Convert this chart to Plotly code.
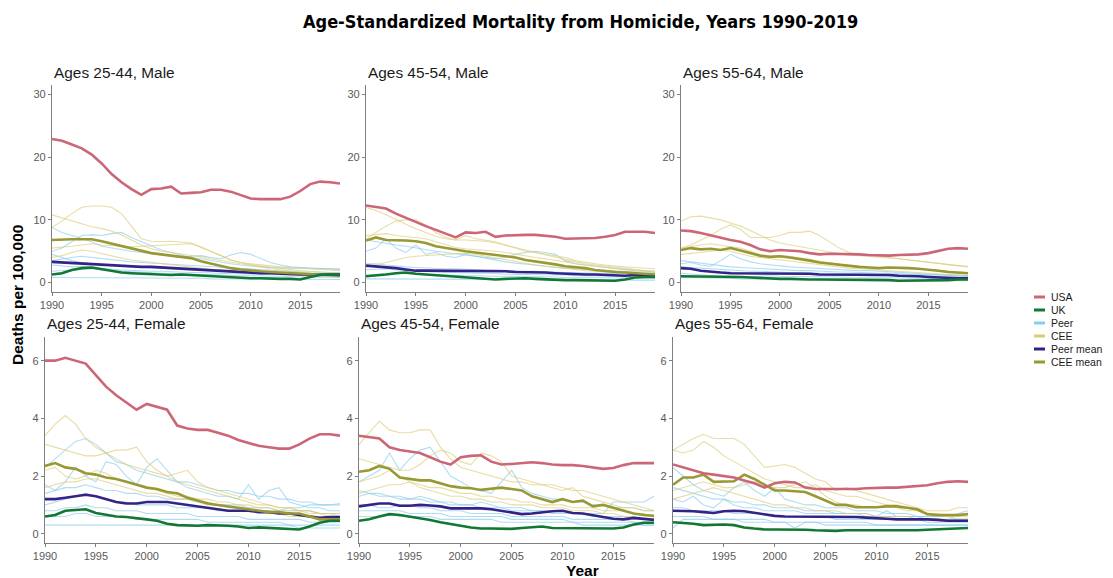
import plotly.graph_objects as go

# page body has an 8px margin; the figure is sized so it fills the window exactly
OFF = 8
W, H = 1113 - OFF, 578 - OFF
years = list(range(1990, 2020))

panel_titles = ["Ages 25-44, Male", "Ages 45-54, Male", "Ages 55-64, Male",
                "Ages 25-44, Female", "Ages 45-54, Female", "Ages 55-64, Female"]
series_names = ["USA", "UK", "Peer", "CEE", "Peer mean", "CEE mean"]
x_ticks = [1990, 1995, 2000, 2005, 2010, 2015]
y_ticks_male = [0, 10, 20, 30]
y_ticks_female = [0, 2, 4, 6]

# ---- Ages 25-44, Male ----
usa_m2544 = [22.9,22.6,22.0,21.4,20.4,19.0,17.3,16.0,14.9,14.0,14.9,15.0,15.3,14.2,14.3,14.4,14.8,14.8,14.5,13.9,13.4,13.3,13.3,13.3,13.7,14.6,15.7,16.1,16.0,15.8]
uk_m2544 = [1.3,1.5,2.0,2.3,2.4,2.1,1.8,1.6,1.5,1.4,1.3,1.3,1.2,1.3,1.2,1.1,1.0,0.9,0.9,0.8,0.7,0.7,0.6,0.6,0.6,0.5,0.9,1.2,1.3,1.2]
peermean_m2544 = [3.3,3.2,3.1,3.0,2.9,2.8,2.7,2.6,2.5,2.5,2.5,2.4,2.3,2.2,2.1,2.0,1.9,1.8,1.7,1.6,1.6,1.5,1.5,1.4,1.4,1.3,1.3,1.3,1.3,1.3]
ceemean_m2544 = [6.8,6.9,6.9,6.9,6.9,6.6,6.2,5.9,5.5,5.1,4.7,4.5,4.3,4.1,3.9,3.4,3.0,2.6,2.3,2.1,1.9,1.8,1.7,1.6,1.5,1.4,1.3,1.2,1.1,1.1]
cee_m2544 = [
    [8.8,9.8,11.0,12.0,12.2,12.2,12.0,11.0,9.0,7.0,6.6,6.5,6.6,6.5,6.3,5.6,5.0,4.3,3.6,3.2,3.0,2.8,2.7,2.5,2.4,2.3,2.2,2.1,2.0,1.9],
    [10.8,10.3,9.8,9.3,8.9,8.6,8.2,7.6,6.8,6.0,5.4,5.0,4.8,4.6,4.4,4.1,3.8,3.5,3.2,3.0,2.8,2.6,2.4,2.2,2.0,1.9,1.8,1.7,1.6,1.5],
    [5.5,5.6,5.8,6.0,6.2,6.0,5.9,5.8,5.7,5.8,5.9,6.0,6.0,6.1,6.2,5.7,5.0,4.3,3.6,3.2,2.8,2.5,2.2,2.0,1.8,1.6,1.4,1.3,1.2,1.1],
    [4.0,4.3,4.8,5.2,5.0,4.6,4.2,3.9,3.6,3.4,3.2,3.0,2.8,2.7,2.5,2.3,2.1,2.0,1.9,1.8,1.7,1.6,1.5,1.4,1.3,1.2,1.1,1.0,1.0,0.9],
]
peer_m2544 = [
    [8.8,8.0,7.5,7.0,6.5,5.8,5.5,5.3,5.0,4.8,4.6,4.4,4.2,4.0,4.2,4.3,4.0,3.8,4.4,4.8,4.5,3.8,3.2,2.8,2.5,2.4,2.3,2.2,2.2,2.1],
    [5.0,5.5,6.5,7.5,7.6,7.5,7.8,8.0,7.2,6.5,5.8,5.2,4.8,4.4,4.0,3.8,3.5,3.2,3.0,2.8,2.6,2.5,2.4,2.3,2.3,2.3,2.2,2.2,2.2,2.2],
    [3.5,3.8,4.0,4.2,4.0,3.8,3.6,3.5,3.3,3.2,3.1,3.0,2.9,2.8,2.7,2.6,2.5,2.4,2.3,2.2,2.1,2.0,1.9,1.8,1.8,1.7,1.7,1.6,1.6,1.6],
    [2.8,2.6,2.5,2.6,2.4,2.2,2.1,2.0,1.9,1.9,1.8,1.8,1.7,1.7,1.6,1.6,1.5,1.5,1.4,1.4,1.3,1.3,1.3,1.2,1.2,1.2,1.1,1.1,1.1,1.1],
    [1.8,1.9,2.0,2.1,2.2,2.0,1.9,1.8,1.7,1.6,1.6,1.5,1.5,1.4,1.4,1.3,1.3,1.2,1.2,1.1,1.1,1.0,1.0,1.0,0.9,0.9,0.9,0.9,0.8,0.8],
    [0.8,0.8,0.8,0.8,0.8,0.8,0.8,0.8,0.7,0.7,0.7,0.7,0.7,0.7,0.7,0.7,0.6,0.6,0.6,0.6,0.6,0.6,0.6,0.6,0.5,0.5,0.5,0.5,0.5,0.5],
    [4.5,4.0,3.5,3.2,3.0,2.8,2.7,2.6,2.5,2.4,2.3,2.2,2.1,2.0,2.0,1.9,1.9,1.8,1.8,1.7,1.7,1.6,1.6,1.5,1.5,1.5,1.4,1.4,1.4,1.4],
]

# ---- Ages 45-54, Male ----
usa_m4554 = [12.3,12.1,11.8,11.0,10.3,9.6,9.0,8.4,7.8,7.2,8.0,7.9,8.1,7.3,7.5,7.6,7.6,7.6,7.5,7.3,7.0,7.0,7.1,7.1,7.3,7.6,8.1,8.1,8.1,7.9]
uk_m4554 = [1.0,1.1,1.3,1.5,1.6,1.4,1.3,1.1,1.0,0.9,0.8,0.7,0.6,0.5,0.6,0.7,0.7,0.6,0.5,0.5,0.4,0.4,0.4,0.4,0.3,0.3,0.5,0.8,0.9,0.9]
peermean_m4554 = [2.7,2.6,2.5,2.3,2.1,1.9,1.9,1.9,1.9,1.9,1.9,1.9,1.8,1.8,1.8,1.7,1.7,1.6,1.6,1.5,1.4,1.4,1.3,1.3,1.2,1.1,1.1,1.2,1.2,1.2]
ceemean_m4554 = [6.7,7.2,6.8,6.8,6.7,6.6,6.3,5.8,5.5,5.2,5.0,4.8,4.6,4.4,4.2,4.0,3.6,3.4,3.2,2.9,2.6,2.5,2.3,2.0,1.8,1.7,1.6,1.5,1.4,1.3]
cee_m4554 = [
    [7.0,8.0,9.0,9.8,10.0,10.0,9.2,8.0,7.2,6.8,7.5,7.0,6.8,6.5,6.0,5.5,5.0,4.8,4.5,4.2,4.0,3.5,3.2,3.0,2.8,2.6,2.5,2.4,2.3,2.2],
    [12.0,11.5,10.8,10.0,9.3,8.6,8.0,7.4,7.0,6.8,6.8,6.7,6.6,6.3,6.0,5.6,5.2,4.8,4.4,4.0,3.6,3.3,3.0,2.8,2.6,2.4,2.2,2.0,1.9,1.8],
    [7.5,7.6,7.8,7.5,7.3,7.2,7.0,6.5,6.0,5.6,5.4,5.3,5.2,5.0,4.8,4.5,4.2,4.0,3.8,3.6,3.3,3.0,2.8,2.5,2.3,2.1,2.0,1.9,1.8,1.7],
    [2.5,2.8,3.2,3.6,4.0,4.2,4.3,4.4,4.5,4.6,4.7,4.5,4.2,4.0,3.6,3.3,3.0,2.8,2.6,2.4,2.2,2.0,1.9,1.8,1.7,1.6,1.5,1.4,1.4,1.3],
]
peer_m4554 = [
    [5.0,5.5,7.0,5.5,4.8,6.0,4.5,4.8,4.2,4.0,4.5,4.2,3.8,3.5,3.3,3.1,3.0,2.8,2.6,2.4,2.3,2.2,2.1,2.0,1.9,1.8,1.8,1.7,1.7,1.6],
    [6.8,6.5,6.3,6.0,5.8,5.5,5.2,5.0,4.8,4.6,4.5,4.3,4.0,3.8,4.0,4.5,4.8,5.0,4.8,4.5,3.5,3.0,2.8,2.6,2.4,2.2,2.1,2.0,1.9,1.8],
    [3.0,3.0,2.8,2.6,2.5,2.4,2.3,2.3,2.2,2.2,2.1,2.1,2.0,2.0,1.9,1.9,1.8,1.8,1.7,1.7,1.6,1.6,1.5,1.5,1.5,1.4,1.4,1.4,1.3,1.3],
    [2.0,2.1,2.2,2.0,1.9,1.8,1.8,1.7,1.6,1.6,1.5,1.5,1.5,1.4,1.4,1.3,1.3,1.3,1.2,1.2,1.2,1.1,1.1,1.1,1.0,1.0,1.0,1.0,0.9,0.9],
    [1.2,1.3,1.4,1.5,1.4,1.3,1.3,1.2,1.2,1.1,1.1,1.1,1.0,1.0,1.0,1.0,0.9,0.9,0.9,0.9,0.8,0.8,0.8,0.8,0.8,0.7,0.7,0.7,0.7,0.7],
    [0.6,0.6,0.6,0.6,0.6,0.6,0.6,0.5,0.5,0.5,0.5,0.5,0.5,0.5,0.5,0.5,0.5,0.5,0.4,0.4,0.4,0.4,0.4,0.4,0.4,0.4,0.4,0.4,0.4,0.4],
]

# ---- Ages 55-64, Male ----
usa_m5564 = [8.3,8.2,7.9,7.5,7.2,6.8,6.5,6.0,5.3,5.0,5.2,5.1,5.0,4.7,4.5,4.6,4.6,4.6,4.5,4.4,4.3,4.3,4.4,4.4,4.5,4.7,5.1,5.4,5.5,5.4]
uk_m5564 = [1.0,1.0,1.0,1.0,1.0,1.0,0.9,0.8,0.7,0.6,0.6,0.6,0.5,0.5,0.5,0.5,0.5,0.4,0.4,0.4,0.4,0.4,0.3,0.3,0.3,0.3,0.3,0.4,0.5,0.5]
peermean_m5564 = [2.3,2.2,1.9,1.7,1.6,1.5,1.5,1.5,1.5,1.5,1.5,1.4,1.4,1.4,1.3,1.3,1.3,1.3,1.3,1.2,1.2,1.2,1.1,1.1,1.0,0.9,0.8,0.8,0.7,0.7]
ceemean_m5564 = [5.2,5.5,5.3,5.4,5.2,5.5,5.1,4.7,4.3,4.1,4.2,4.0,3.8,3.5,3.2,3.0,2.9,2.7,2.5,2.4,2.3,2.4,2.4,2.3,2.2,2.1,1.9,1.7,1.6,1.5]
cee_m5564 = [
    [9.8,10.5,10.6,10.3,10.0,9.5,9.0,8.3,7.5,6.8,6.3,6.0,5.8,5.5,5.2,4.9,4.6,4.4,4.3,4.2,4.1,4.0,3.8,3.6,3.4,3.2,3.0,2.8,2.7,2.6],
    [5.5,6.0,6.8,7.5,8.5,9.2,8.5,7.2,7.2,7.2,7.5,8.0,8.0,8.2,7.5,6.5,5.5,4.8,4.5,4.3,4.2,4.0,3.8,3.6,3.4,3.2,3.0,2.8,2.6,2.5],
    [5.5,5.8,6.0,6.2,6.0,5.8,5.5,5.0,4.4,4.2,4.3,4.2,4.0,3.7,3.4,3.1,2.9,2.7,2.5,2.4,2.3,2.4,2.4,2.3,2.2,2.1,1.9,1.8,1.7,1.6],
    [4.5,4.6,4.8,5.0,5.2,5.0,4.6,4.2,4.0,3.8,3.6,3.4,3.2,3.0,2.8,2.6,2.4,2.3,2.2,2.1,2.0,1.9,1.8,1.7,1.6,1.5,1.4,1.3,1.2,1.1],
]
peer_m5564 = [
    [3.5,3.3,3.0,2.8,2.6,2.5,2.4,2.3,2.2,2.1,2.0,2.0,1.9,1.9,1.8,1.8,1.7,1.7,1.6,1.6,1.5,1.5,1.4,1.4,1.3,1.3,1.2,1.2,1.2,1.1],
    [3.0,3.2,2.8,2.6,3.5,4.5,3.8,3.3,3.0,2.8,2.6,2.5,2.4,2.3,2.2,2.1,2.0,2.0,1.9,1.9,1.8,1.8,1.7,1.6,1.5,1.4,1.3,1.2,1.1,1.0],
    [2.2,2.0,1.9,1.8,1.7,1.6,1.6,1.5,1.5,1.5,1.4,1.4,1.4,1.3,1.3,1.3,1.2,1.2,1.2,1.1,1.1,1.1,1.0,1.0,1.0,0.9,0.9,0.9,0.9,0.8],
    [1.5,1.4,1.3,1.2,1.0,0.8,0.9,1.0,1.1,1.1,1.0,1.0,1.0,0.9,0.9,0.9,0.9,0.8,0.8,0.8,0.8,0.7,0.7,0.7,0.7,0.7,0.6,0.6,0.6,0.6],
    [0.8,0.8,0.7,0.7,0.7,0.7,0.6,0.6,0.6,0.6,0.6,0.6,0.5,0.5,0.5,0.5,0.5,0.5,0.5,0.4,0.4,0.4,0.4,0.4,0.4,0.4,0.4,0.4,0.3,0.3],
    [2.5,2.4,2.3,2.1,2.0,1.9,1.9,1.8,1.8,1.7,1.7,1.6,1.6,1.5,1.5,1.5,1.4,1.4,1.4,1.3,1.3,1.3,1.2,1.2,1.1,1.1,1.1,1.0,1.0,1.0],
]

# ---- Ages 25-44, Female ----
usa_f2544 = [6.0,6.0,6.1,6.0,5.9,5.5,5.1,4.8,4.55,4.3,4.5,4.4,4.3,3.75,3.65,3.6,3.6,3.5,3.4,3.25,3.15,3.05,3.0,2.95,2.95,3.1,3.3,3.45,3.45,3.4]
uk_f2544 = [0.6,0.65,0.8,0.82,0.85,0.72,0.65,0.6,0.58,0.55,0.5,0.45,0.35,0.3,0.28,0.28,0.3,0.3,0.28,0.25,0.2,0.22,0.2,0.18,0.15,0.15,0.25,0.38,0.45,0.45]
peermean_f2544 = [1.2,1.2,1.25,1.3,1.35,1.3,1.2,1.1,1.05,1.05,1.1,1.1,1.1,1.05,1.0,0.95,0.9,0.85,0.8,0.8,0.8,0.75,0.75,0.7,0.7,0.65,0.6,0.55,0.58,0.58]
ceemean_f2544 = [2.35,2.45,2.3,2.25,2.1,2.05,1.95,1.9,1.8,1.7,1.6,1.55,1.45,1.4,1.25,1.15,1.05,1.0,0.95,0.9,0.85,0.8,0.75,0.75,0.7,0.7,0.6,0.5,0.5,0.5]
cee_f2544 = [
    [3.4,3.8,4.1,3.8,3.3,3.0,2.8,2.6,2.4,2.3,2.2,2.1,2.0,2.1,2.2,1.8,1.6,1.5,1.4,1.3,1.2,1.1,1.0,0.9,0.9,0.8,0.8,0.7,0.7,0.7],
    [3.1,3.0,2.9,2.8,2.7,2.7,2.8,2.9,2.9,3.0,2.5,2.2,2.0,1.8,1.7,1.6,1.5,1.4,1.3,1.2,1.1,1.0,1.0,0.9,0.9,0.8,0.8,0.7,0.7,0.6],
    [2.2,2.3,2.0,1.9,2.0,2.2,2.1,1.9,1.8,1.7,1.6,1.5,1.4,1.3,1.3,1.2,1.2,1.1,1.1,1.0,1.0,0.9,0.9,0.8,0.8,0.8,0.7,0.7,0.6,0.6],
    [1.6,1.7,1.8,1.8,1.9,1.9,1.8,1.7,1.6,1.5,1.4,1.4,1.3,1.2,1.2,1.1,1.0,1.0,0.9,0.9,0.8,0.8,0.7,0.7,0.6,0.6,0.6,0.5,0.5,0.5],
]
peer_f2544 = [
    [2.3,2.6,2.9,3.2,3.3,3.1,2.8,2.5,2.4,2.2,2.1,2.0,1.9,1.8,1.8,1.7,1.6,1.5,1.5,1.4,1.4,1.3,1.3,1.2,1.2,1.1,1.1,1.0,1.0,1.0],
    [1.7,1.5,1.8,2.3,2.0,1.8,2.5,2.4,2.0,1.7,2.3,2.6,2.2,1.8,1.6,1.5,1.4,1.3,1.3,1.2,1.7,1.2,1.5,1.6,1.1,1.0,0.9,0.9,0.8,0.8],
    [1.0,1.1,1.2,1.3,1.4,1.3,1.2,1.1,1.1,1.0,1.0,1.0,1.0,0.9,0.9,0.9,0.9,0.8,0.8,0.8,0.8,0.8,0.8,0.8,0.9,0.9,1.0,1.0,1.0,1.05],
    [0.8,0.8,0.9,0.9,1.0,0.9,0.9,0.8,0.8,0.8,0.7,0.7,0.7,0.7,0.7,0.6,0.6,0.6,0.6,0.6,0.5,0.5,0.5,0.5,0.5,0.5,0.4,0.4,0.4,0.4],
    [0.3,0.3,0.3,0.3,0.3,0.3,0.3,0.3,0.3,0.3,0.3,0.3,0.3,0.3,0.3,0.3,0.3,0.3,0.3,0.3,0.3,0.3,0.3,0.3,0.3,0.2,0.2,0.2,0.2,0.2],
    [1.4,1.5,1.6,1.6,1.7,1.6,1.5,1.5,1.4,1.4,1.3,1.3,1.2,1.2,1.2,1.1,1.1,1.0,1.0,1.0,0.9,0.9,0.9,0.8,0.8,0.8,0.8,0.7,0.7,0.7],
    [0.6,0.6,0.6,0.7,0.7,0.6,0.6,0.6,0.6,0.5,0.5,0.5,0.5,0.5,0.5,0.5,0.4,0.4,0.4,0.4,0.4,0.4,0.4,0.4,0.3,0.3,0.3,0.3,0.3,0.3],
]

# ---- Ages 45-54, Female ----
usa_f4554 = [3.4,3.35,3.3,3.0,2.9,2.85,2.8,2.65,2.5,2.4,2.65,2.7,2.72,2.5,2.4,2.42,2.45,2.48,2.45,2.4,2.38,2.38,2.35,2.3,2.25,2.28,2.38,2.45,2.45,2.45]
uk_f4554 = [0.45,0.5,0.6,0.68,0.65,0.6,0.55,0.48,0.4,0.33,0.28,0.22,0.18,0.18,0.18,0.17,0.2,0.22,0.25,0.2,0.2,0.18,0.18,0.18,0.18,0.18,0.22,0.32,0.38,0.38]
peermean_f4554 = [0.95,1.0,1.05,1.05,0.97,0.97,1.0,0.98,0.95,0.88,0.88,0.9,0.88,0.85,0.8,0.75,0.68,0.7,0.75,0.78,0.8,0.72,0.7,0.65,0.58,0.52,0.5,0.55,0.52,0.48]
ceemean_f4554 = [2.15,2.2,2.35,2.25,1.95,1.9,1.85,1.85,1.75,1.65,1.6,1.58,1.52,1.55,1.6,1.55,1.5,1.3,1.2,1.1,1.2,1.1,1.15,0.95,1.0,0.9,0.8,0.7,0.65,0.62]
cee_f4554 = [
    [3.1,3.5,3.9,3.6,3.5,3.5,3.6,3.6,3.0,2.6,2.3,2.2,2.1,2.0,1.9,1.8,1.8,1.7,1.7,1.6,1.5,1.6,1.3,1.2,1.1,1.0,0.9,0.9,0.8,0.8],
    [2.6,2.5,2.4,2.3,2.2,2.2,2.4,2.7,2.9,2.8,2.5,2.4,2.8,2.7,2.5,2.0,1.9,1.8,1.7,1.7,1.6,1.5,1.5,1.4,1.3,1.2,1.1,1.0,0.9,0.8],
    [1.8,1.9,2.0,2.2,2.0,1.8,1.7,1.6,1.6,1.5,1.4,1.4,1.3,1.3,1.2,1.2,1.1,1.1,1.0,1.0,1.0,0.9,0.9,0.9,0.8,0.8,0.8,0.7,0.7,0.6],
    [1.4,1.5,1.6,1.7,1.7,1.8,1.6,1.5,1.4,1.3,1.3,1.2,1.2,1.1,1.1,1.0,1.0,1.0,0.9,0.9,0.9,0.8,0.8,0.8,0.7,0.7,0.6,0.6,0.5,0.5],
]
peer_f4554 = [
    [1.8,2.0,2.2,2.8,2.2,2.6,2.9,3.0,2.5,2.0,1.8,1.6,1.5,1.4,1.8,2.2,1.6,1.4,1.3,1.2,1.2,1.1,1.1,1.0,1.0,0.9,0.9,0.9,0.8,0.8],
    [1.3,1.4,1.4,1.3,1.3,1.2,1.2,1.1,1.1,1.0,1.0,1.0,1.1,1.0,0.9,0.9,0.9,0.8,0.8,0.8,0.8,0.7,0.7,0.7,0.7,1.1,1.1,1.1,1.1,1.3],
    [1.0,1.0,0.9,0.9,1.0,1.0,0.9,0.9,0.8,0.8,0.8,0.7,0.7,0.7,0.7,0.6,0.6,0.6,0.6,0.6,0.6,0.5,0.5,0.5,0.5,0.5,0.5,0.4,0.4,0.4],
    [0.6,0.6,0.6,0.7,0.6,0.6,0.6,0.6,0.5,0.5,0.5,0.5,0.5,0.5,0.4,0.4,0.4,0.4,0.4,0.4,0.4,0.4,0.3,0.3,0.3,0.3,0.3,0.3,0.3,0.3],
    [1.5,1.4,1.3,1.3,1.2,1.2,1.3,1.2,1.1,1.1,1.0,1.0,0.9,0.9,0.9,0.8,0.8,0.8,0.8,0.7,0.7,0.7,0.7,0.6,0.6,0.6,0.6,0.5,0.5,0.5],
    [0.8,0.8,0.8,0.8,0.8,0.7,0.7,0.7,0.7,0.6,0.6,0.6,0.6,0.6,0.6,0.5,0.5,0.5,0.5,0.5,0.5,0.4,0.4,0.4,0.4,0.4,0.4,0.4,0.3,0.3],
]

# ---- Ages 55-64, Female ----
usa_f5564 = [2.4,2.3,2.2,2.1,2.05,2.0,1.95,1.85,1.75,1.6,1.75,1.8,1.78,1.6,1.55,1.55,1.55,1.55,1.55,1.58,1.6,1.6,1.6,1.62,1.65,1.68,1.75,1.8,1.82,1.8]
uk_f5564 = [0.4,0.38,0.35,0.3,0.32,0.32,0.3,0.22,0.18,0.15,0.15,0.15,0.15,0.14,0.12,0.1,0.1,0.12,0.12,0.12,0.12,0.1,0.1,0.12,0.12,0.14,0.16,0.18,0.2,0.2]
peermean_f5564 = [0.8,0.8,0.78,0.75,0.72,0.78,0.8,0.78,0.72,0.68,0.62,0.6,0.6,0.6,0.58,0.58,0.58,0.6,0.58,0.56,0.55,0.52,0.5,0.5,0.52,0.5,0.48,0.45,0.45,0.45]
ceemean_f5564 = [1.7,1.95,1.95,2.05,1.8,1.82,1.82,2.05,1.9,1.7,1.5,1.5,1.48,1.45,1.3,1.15,1.0,1.0,0.92,0.92,0.92,0.95,0.95,0.9,0.85,0.68,0.65,0.65,0.65,0.68]
cee_f5564 = [
    [2.9,3.1,3.3,3.45,3.3,3.3,3.3,3.1,2.7,2.3,2.35,2.4,2.3,2.1,1.9,1.8,1.5,1.6,1.5,1.4,1.3,1.2,1.1,1.0,0.9,0.8,0.8,0.8,0.9,0.9],
    [2.9,2.8,2.9,3.2,3.0,2.7,2.5,2.3,2.1,1.9,1.8,1.7,1.6,1.6,1.7,1.5,1.4,1.3,1.3,1.2,1.1,1.0,0.9,0.8,0.8,0.7,0.6,0.6,0.6,0.6],
    [1.5,1.6,1.7,1.8,1.7,1.6,1.6,1.7,1.8,1.7,1.6,1.6,1.7,1.8,1.6,1.3,1.1,1.0,1.0,0.9,0.9,1.0,1.0,0.9,0.8,0.7,0.7,0.6,0.6,0.7],
    [1.2,1.3,1.4,1.5,1.6,1.5,1.4,1.3,1.2,1.1,1.0,1.0,0.9,0.9,0.8,0.8,0.8,0.7,0.7,0.7,0.6,0.6,0.6,0.6,0.5,0.5,0.5,0.5,0.5,0.5],
]
peer_f5564 = [
    [2.3,2.0,1.7,1.5,1.4,1.3,1.6,1.8,1.5,1.3,1.6,1.2,1.1,1.0,1.0,0.9,0.9,0.9,0.8,0.8,0.8,0.7,0.7,0.7,0.6,0.6,0.6,0.6,0.5,0.5],
    [1.2,1.1,1.3,1.0,0.9,1.2,1.0,0.9,0.9,0.8,0.8,0.8,0.8,0.7,0.7,0.7,0.7,0.7,0.7,0.6,0.6,0.8,0.6,0.6,0.6,0.6,0.6,0.6,0.7,0.8],
    [0.9,0.9,0.8,0.8,0.8,0.8,0.7,0.7,0.7,0.7,0.6,0.6,0.6,0.6,0.6,0.6,0.5,0.5,0.5,0.5,0.5,0.5,0.5,0.5,0.5,0.4,0.4,0.4,0.4,0.4],
    [0.6,0.6,0.6,0.6,0.5,0.5,0.5,0.5,0.5,0.5,0.4,0.4,0.2,0.4,0.4,0.4,0.4,0.4,0.4,0.4,0.3,0.3,0.3,0.3,0.3,0.3,0.3,0.3,0.3,0.3],
    [0.2,0.5,0.5,0.5,0.5,0.5,0.5,0.4,0.4,0.4,0.4,0.4,0.4,0.4,0.4,0.3,0.3,0.3,0.3,0.3,0.3,0.3,0.3,0.3,0.3,0.3,0.3,0.3,0.3,0.3],
    [1.6,1.5,1.4,1.3,1.2,1.2,1.1,1.1,1.0,1.0,0.9,0.9,0.9,0.8,0.8,0.8,0.7,0.7,0.7,0.7,0.6,0.6,0.6,0.6,0.6,0.5,0.5,0.5,0.5,0.5],
]

panels = [
    (usa_m2544, uk_m2544, peer_m2544, cee_m2544, peermean_m2544, ceemean_m2544),
    (usa_m4554, uk_m4554, peer_m4554, cee_m4554, peermean_m4554, ceemean_m4554),
    (usa_m5564, uk_m5564, peer_m5564, cee_m5564, peermean_m5564, ceemean_m5564),
    (usa_f2544, uk_f2544, peer_f2544, cee_f2544, peermean_f2544, ceemean_f2544),
    (usa_f4554, uk_f4554, peer_f4554, cee_f4554, peermean_f4554, ceemean_f4554),
    (usa_f5564, uk_f5564, peer_f5564, cee_f5564, peermean_f5564, ceemean_f5564),
]

colors = {"USA": "#CC6677", "UK": "#117733", "Peer": "#88CCEE", "CEE": "#DDCC77",
          "Peer mean": "#332288", "CEE mean": "#999933"}

# convert window pixel positions into paper fractions
def px(x):
    return (x - OFF) / W

def py(y):
    return 1 - (y - OFF) / H

# panel boxes in window pixels: (left, right, top, bottom)
boxes = [(52, 340, 85, 292), (366, 655, 85, 292), (681, 968, 85, 292),
         (45, 340, 337, 543), (359, 654, 337, 543), (673, 968, 337, 543)]

fig = go.Figure()
layout = dict(width=W, height=H, margin=dict(l=0, r=0, t=0, b=0, pad=0, autoexpand=False),
              plot_bgcolor="white", paper_bgcolor="white", showlegend=False,
              font=dict(family="Liberation Sans, Arial, sans-serif"))
annotations = []
shapes = []

for i, (usa, uk, peer, cee, pmean, cmean) in enumerate(panels):
    n = i + 1
    xa = "x" if n == 1 else f"x{n}"
    ya = "y" if n == 1 else f"y{n}"
    for s in peer:
        fig.add_trace(go.Scatter(x=years, y=s, mode="lines", xaxis=xa, yaxis=ya,
                                 line=dict(color=colors["Peer"], width=1.1), opacity=0.65,
                                 hoverinfo="skip"))
    for s in cee:
        fig.add_trace(go.Scatter(x=years, y=s, mode="lines", xaxis=xa, yaxis=ya,
                                 line=dict(color=colors["CEE"], width=1.1), opacity=0.65,
                                 hoverinfo="skip"))
    for name, s in [("Peer mean", pmean), ("CEE mean", cmean), ("UK", uk), ("USA", usa)]:
        fig.add_trace(go.Scatter(x=years, y=s, mode="lines", xaxis=xa, yaxis=ya, name=name,
                                 line=dict(color=colors[name], width=2.6)))
    l, r, t, b = boxes[i]
    male = i < 3
    layout["xaxis" if n == 1 else f"xaxis{n}"] = dict(
        domain=[px(l), px(r)], range=[1990, 2019], anchor=ya,
        tickvals=x_ticks, ticktext=[str(v) for v in x_ticks],
        showline=True, linecolor="#7f7f7f", linewidth=1.2, ticks="outside",
        ticklen=3, tickcolor="#7f7f7f", showgrid=False, zeroline=False, automargin=False,
        tickfont=dict(size=11, color="#5a5a5a"))
    layout["yaxis" if n == 1 else f"yaxis{n}"] = dict(
        domain=[py(b), py(t)], range=[-1.5, 31.5] if male else [-0.32, 6.82], anchor=xa,
        tickvals=y_ticks_male if male else y_ticks_female,
        showline=True, linecolor="#7f7f7f", linewidth=1.2, ticks="outside",
        ticklen=3, tickcolor="#7f7f7f", showgrid=False, zeroline=False, automargin=False,
        tickfont=dict(size=11, color="#5a5a5a"))
    annotations.append(dict(text=panel_titles[i], x=px(l), y=py(t - 13), xref="paper", yref="paper",
                            xanchor="left", yanchor="middle", showarrow=False,
                            font=dict(size=15.4, color="#1a1a1a")))

annotations.append(dict(text="<b>Age-Standardized Mortality from Homicide, Years 1990-2019</b>",
                        x=px(580), y=py(22), xref="paper", yref="paper", showarrow=False,
                        xanchor="center", yanchor="middle",
                        font=dict(size=18, color="#000000",
                                  family="DejaVu Sans Condensed, Liberation Sans, Arial")))
annotations.append(dict(text="<b>Deaths per 100,000</b>", x=px(17), y=py(295), xref="paper", yref="paper",
                        showarrow=False, textangle=-90, xanchor="center", yanchor="middle",
                        font=dict(size=15.5, color="#000000")))
annotations.append(dict(text="<b>Year</b>", x=px(582), y=py(570), xref="paper", yref="paper",
                        showarrow=False, xanchor="center", yanchor="middle",
                        font=dict(size=15.5, color="#000000")))

# legend drawn by hand (short keys like the reference)
leg_y = [297, 310, 323, 336, 349, 362]
for name, yy in zip(series_names, leg_y):
    shapes.append(dict(type="line", xref="paper", yref="paper", x0=px(1034), x1=px(1045),
                       y0=py(yy), y1=py(yy), line=dict(color=colors[name], width=3)))
    annotations.append(dict(text=name, x=px(1049), y=py(yy), xref="paper", yref="paper",
                            showarrow=False, xanchor="left", yanchor="middle",
                            font=dict(size=10.5, color="#1a1a1a")))

layout["annotations"] = annotations
layout["shapes"] = shapes
fig.update_layout(**layout)
fig.write_html("out.html")
